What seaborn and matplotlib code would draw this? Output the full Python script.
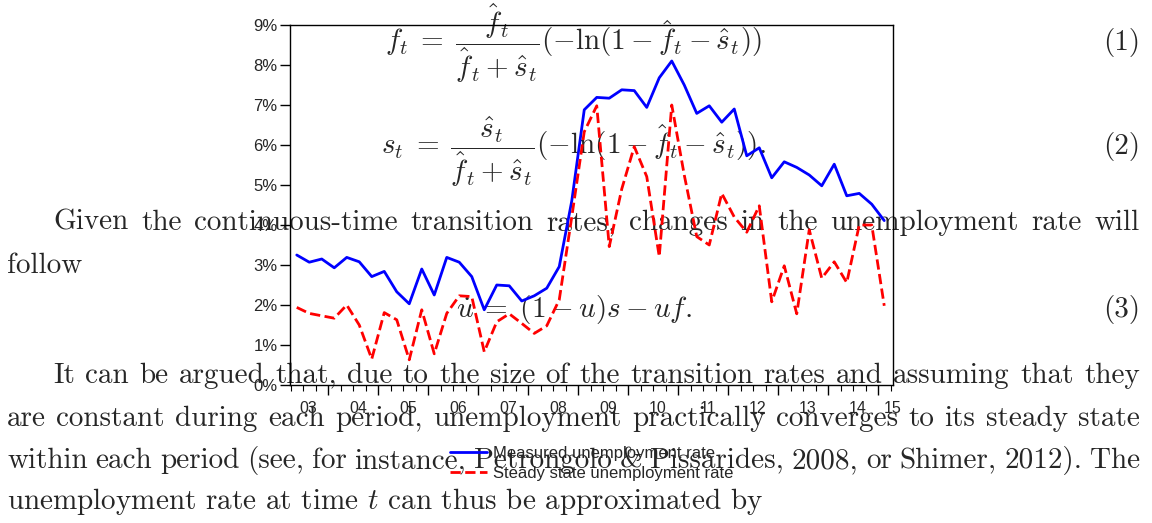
import numpy as np
import pandas as pd
import matplotlib
matplotlib.use('Agg')
import matplotlib.pyplot as plt
import matplotlib.ticker as mticker
from matplotlib.lines import Line2D
import seaborn as sns

# style
sns.set_style("ticks")
plt.rcParams['font.family'] = ['Liberation Sans', 'DejaVu Sans']
plt.rcParams['mathtext.fontset'] = 'cm'

W, H = 1152, 523

# data: quarterly unemployment rates (%), 2003Q2 - 2015Q1
quarters = pd.period_range('2003Q2', '2015Q1', freq='Q')
measured = [3.25, 3.07, 3.15, 2.93, 3.19, 3.08, 2.71, 2.84, 2.33, 2.03, 2.90, 2.25,
            3.19, 3.07, 2.71, 1.88, 2.50, 2.48, 2.10, 2.23, 2.42, 2.96, 4.60, 6.88,
            7.19, 7.17, 7.38, 7.36, 6.94, 7.68, 8.10, 7.50, 6.79, 6.98, 6.57, 6.90,
            5.73, 5.93, 5.18, 5.58, 5.44, 5.25, 4.98, 5.52, 4.73, 4.79, 4.52, 4.11]
steady = [1.94, 1.79, 1.73, 1.67, 2.00, 1.50, 0.65, 1.81, 1.63, 0.63, 1.88, 0.78,
          1.79, 2.23, 2.21, 0.83, 1.58, 1.78, 1.54, 1.29, 1.48, 2.13, 4.20, 6.33,
          6.98, 3.46, 4.90, 5.96, 5.21, 3.21, 7.00, 5.25, 3.71, 3.50, 4.79, 4.20,
          3.82, 4.48, 2.08, 2.98, 1.78, 3.88, 2.67, 3.08, 2.56, 4.00, 4.00, 1.98]
year_labels = ['03', '04', '05', '06', '07', '08', '09', '10', '11', '12', '13', '14', '15']
series_names = ['Measured unemployment rate', 'Steady state unemployment rate']

df = pd.DataFrame({
    't': quarters.year + (quarters.quarter - 1) / 4 + 0.125,
    'measured': measured,
    'steady': steady,
})

# document text behind the chart
doc_lines = [
    ("Given the continuous-time transition rates, changes in the unemployment rate will", 53, 230, True),
    ("follow", 7, 273, False),
    ("It can be argued that, due to the size of the transition rates and assuming that they", 53, 383, True),
    ("are constant during each period, unemployment practically converges to its steady state", 7, 426, True),
    ("within each period (see, for instance, Petrongolo & Pissarides, 2008, or Shimer, 2012). The", 7, 468, True),
    ("unemployment rate at time $t$ can thus be approximated by", 7, 509, False),
]
equations = [
    (r'$f_t \;=\; \dfrac{\hat{f}_t}{\hat{f}_t + \hat{s}_t}(-\ln(1 - \hat{f}_t - \hat{s}_t))$', '(1)', 50),
    (r'$s_t \;=\; \dfrac{\hat{s}_t}{\hat{f}_t + \hat{s}_t}(-\ln(1 - \hat{f}_t - \hat{s}_t)).$', '(2)', 154),
    (r'$\dot{u} \;=\; (1 - u)s - uf.$', '(3)', 317),
]
doc_size = 21
right_margin = 1140


def fpos(x, y):
    return x / W, 1 - y / H


fig = plt.figure(figsize=(W / 100, H / 100), dpi=100)
renderer = fig.canvas.get_renderer()

for line, x0, yb, justify in doc_lines:
    if not justify:
        fig.text(*fpos(x0, yb), line, family='cmr10', fontsize=doc_size,
                 va='baseline', ha='left', zorder=-1)
        continue
    words = line.split(' ')
    arts = [fig.text(0, 0, w, family='cmr10', fontsize=doc_size, va='baseline',
                     ha='left', zorder=-1) for w in words]
    widths = [a.get_window_extent(renderer).width for a in arts]
    gap = (right_margin - x0 - sum(widths)) / (len(words) - 1)
    x = x0
    for a, w in zip(arts, widths):
        a.set_position(fpos(x, yb))
        x += w + gap

centre = (7 + right_margin) / 2
for eq, num, yb in equations:
    fig.text(*fpos(centre, yb), eq, fontsize=doc_size, va='baseline', ha='center', zorder=-1)
    fig.text(*fpos(right_margin, yb), num, family='cmr10', fontsize=doc_size,
             va='baseline', ha='right', zorder=-1)

# the chart
ax = fig.add_axes([290 / W, 1 - 385 / H, 603 / W, 360 / H])
ax.patch.set_alpha(0)
sns.lineplot(data=df, x='t', y='measured', ax=ax, color='#0000ff', lw=2)
sns.lineplot(data=df, x='t', y='steady', ax=ax, color='#ff0000', lw=2, linestyle='--')

ax.set_xlim(2003.24, 2015.3)
ax.set_ylim(0, 9)
ax.set_xlabel('')
ax.set_ylabel('')
ax.yaxis.set_major_locator(mticker.MultipleLocator(1))
ax.yaxis.set_major_formatter(mticker.FuncFormatter(lambda v, p: f'{int(round(v))}%'))
ax.xaxis.set_major_locator(mticker.MultipleLocator(1))
ax.xaxis.set_minor_locator(mticker.MultipleLocator(0.25))
ax.xaxis.set_major_formatter(mticker.NullFormatter())
ax.tick_params(axis='y', length=7, width=1, pad=2, labelsize=12, color='black')
ax.tick_params(axis='x', which='major', length=7, width=1, color='black')
ax.tick_params(axis='x', which='minor', length=4, width=0.8, color='black')
for s in ax.spines.values():
    s.set_color('black')
    s.set_linewidth(1)

xmax = ax.get_xlim()[1]
for i, lab in enumerate(year_labels):
    pos = min(2003.6 + i, xmax)
    ax.text(pos, -0.064, lab, transform=ax.get_xaxis_transform(),
            ha='center', va='center', fontsize=11.5)

handles = [Line2D([], [], color='#0000ff', lw=2),
           Line2D([], [], color='#ff0000', lw=2, linestyle='--')]
fig.legend(handles, series_names, loc='upper center', bbox_to_anchor=fpos(592, 446),
           frameon=False, fontsize=12, handlelength=2.2, handletextpad=0.4,
           labelspacing=0.3, borderpad=0, borderaxespad=0)

fig.savefig('out.png', dpi=100)
plt.close()
